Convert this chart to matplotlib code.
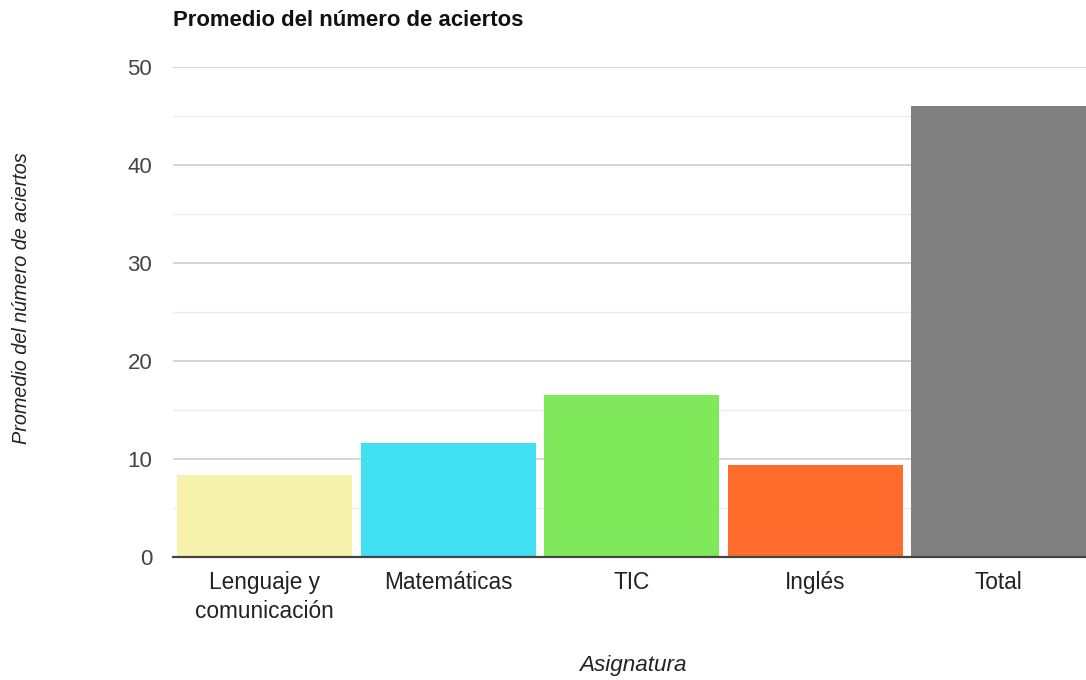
import matplotlib.pyplot as plt
from matplotlib.ticker import MultipleLocator

# data
asignaturas = ['Lenguaje y\ncomunicación', 'Matemáticas', 'TIC', 'Inglés', 'Total']
promedios = [8.4, 11.6, 16.5, 9.4, 46.0]
colores = ['#F6F1AB', '#40DFF2', '#80E85B', '#FF6C2C', '#808080']
yticks = [0, 10, 20, 30, 40, 50]

plt.rcParams['font.family'] = ['Liberation Sans', 'DejaVu Sans']

fig = plt.figure(figsize=(10.86, 6.8), dpi=100)
ax = fig.add_axes([173 / 1086, 123 / 680, (1086 - 173) / 1086, (557 - 67.3) / 680])

x = range(len(asignaturas))
ax.bar(x, promedios, width=0.954, color=colores, zorder=3)

ax.set_xlim(-0.5, 4.475)
ax.set_ylim(0, 50)
ax.set_yticks(yticks)
ax.yaxis.set_minor_locator(MultipleLocator(5))
ax.grid(axis='y', which='major', color='#cccccc', linewidth=1.1, zorder=0)
ax.grid(axis='y', which='minor', color='#ececec', linewidth=1.0, zorder=0)
ax.set_axisbelow(True)

ax.set_xticks(list(x))
ax.set_xticklabels(asignaturas, linespacing=1.35)
ax.tick_params(axis='both', which='both', length=0, labelsize=16.3, colors='#222222')
ax.tick_params(axis='y', pad=15, labelcolor='#444444', labelsize=16)
ax.tick_params(axis='x', pad=10)

for s in ['top', 'right', 'left']:
    ax.spines[s].set_visible(False)
ax.spines['bottom'].set_color('#444444')
ax.spines['bottom'].set_linewidth(1.6)
ax.spines['bottom'].set_zorder(4)

fig.text(173 / 1086, 1 - 20 / 680, 'Promedio del número de aciertos',
         fontsize=15.9, fontweight='bold', color='#111111', va='center', ha='left')
fig.text(22 / 1086, 1 - 298 / 680, 'Promedio del número de aciertos',
         fontsize=14.3, style='italic', color='#222222', rotation=90,
         va='center', ha='center')
fig.text(633 / 1086, 1 - 665 / 680, 'Asignatura',
         fontsize=16.2, style='italic', color='#222222', va='center', ha='center')

fig.savefig('out.png', dpi=100)
